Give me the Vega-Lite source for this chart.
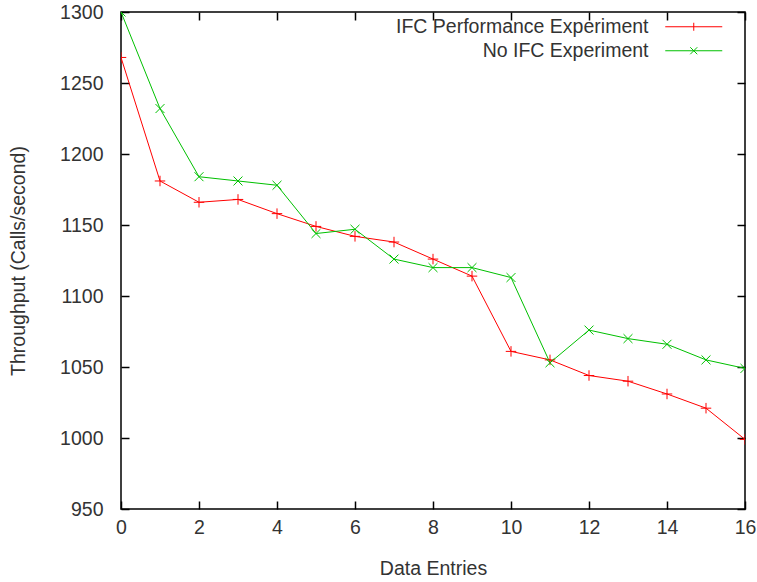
{
  "$schema": "https://vega.github.io/schema/vega-lite/v6.json",
  "width": 624,
  "height": 497,
  "autosize": {"type": "none"},
  "padding": {"left": 121, "top": 12, "right": 12, "bottom": 73},
  "background": "white",
  "config": {
    "view": {"stroke": "black", "strokeWidth": 1.5},
    "font": "Liberation Sans",
    "axis": {
      "labelFont": "Liberation Sans",
      "titleFont": "Liberation Sans",
      "labelFontSize": 19.5,
      "titleFontSize": 19.5,
      "titleFontWeight": "normal",
      "labelColor": "#333",
      "titleColor": "#333",
      "grid": false,
      "domain": false,
      "tickColor": "black",
      "tickSize": -8,
      "tickWidth": 1.5,
      "labelFlush": false,
      "labelBound": false,
      "labelOverlap": false
    }
  },
  "data": {
    "values": [
      {"x": 0, "y": 1268, "s": "IFC Performance Experiment"},
      {"x": 1, "y": 1181, "s": "IFC Performance Experiment"},
      {"x": 2, "y": 1166, "s": "IFC Performance Experiment"},
      {"x": 3, "y": 1168, "s": "IFC Performance Experiment"},
      {"x": 4, "y": 1158, "s": "IFC Performance Experiment"},
      {"x": 5, "y": 1149, "s": "IFC Performance Experiment"},
      {"x": 6, "y": 1142, "s": "IFC Performance Experiment"},
      {"x": 7, "y": 1138, "s": "IFC Performance Experiment"},
      {"x": 8, "y": 1126, "s": "IFC Performance Experiment"},
      {"x": 9, "y": 1114, "s": "IFC Performance Experiment"},
      {"x": 10, "y": 1061, "s": "IFC Performance Experiment"},
      {"x": 11, "y": 1055, "s": "IFC Performance Experiment"},
      {"x": 12, "y": 1044, "s": "IFC Performance Experiment"},
      {"x": 13, "y": 1040, "s": "IFC Performance Experiment"},
      {"x": 14, "y": 1031, "s": "IFC Performance Experiment"},
      {"x": 15, "y": 1021, "s": "IFC Performance Experiment"},
      {"x": 16, "y": 999, "s": "IFC Performance Experiment"},
      {"x": 0, "y": 1300, "s": "No IFC Experiment"},
      {"x": 1, "y": 1232, "s": "No IFC Experiment"},
      {"x": 2, "y": 1184, "s": "No IFC Experiment"},
      {"x": 3, "y": 1181, "s": "No IFC Experiment"},
      {"x": 4, "y": 1178, "s": "No IFC Experiment"},
      {"x": 5, "y": 1144, "s": "No IFC Experiment"},
      {"x": 6, "y": 1147, "s": "No IFC Experiment"},
      {"x": 7, "y": 1126, "s": "No IFC Experiment"},
      {"x": 8, "y": 1120, "s": "No IFC Experiment"},
      {"x": 9, "y": 1120, "s": "No IFC Experiment"},
      {"x": 10, "y": 1113, "s": "No IFC Experiment"},
      {"x": 11, "y": 1053, "s": "No IFC Experiment"},
      {"x": 12, "y": 1076, "s": "No IFC Experiment"},
      {"x": 13, "y": 1070, "s": "No IFC Experiment"},
      {"x": 14, "y": 1066, "s": "No IFC Experiment"},
      {"x": 15, "y": 1055, "s": "No IFC Experiment"},
      {"x": 16, "y": 1049, "s": "No IFC Experiment"}
    ]
  },
  "layer": [
    {
      "mark": {"type": "line", "strokeWidth": 1, "clip": true},
      "encoding": {
        "x": {"field": "x", "type": "quantitative", "scale": {"domain": [0, 16], "nice": false},
              "axis": {"title": "Data Entries", "values": [0,2,4,6,8,10,12,14,16], "labelPadding": 17, "titlePadding": 23, "orient": "bottom"}},
        "y": {"field": "y", "type": "quantitative", "scale": {"domain": [950, 1300], "nice": false, "zero": false},
              "axis": {"title": "Throughput (Calls/second)", "format": "d", "values": [950,1000,1050,1100,1150,1200,1250,1300], "labelPadding": 26, "titlePadding": 31, "orient": "left"}},
        "color": {"field": "s", "type": "nominal",
                  "scale": {"domain": ["IFC Performance Experiment", "No IFC Experiment"], "range": ["#ff0000", "#00c000"]},
                  "legend": {
                    "title": null,
                    "orient": "none",
                    "legendX": 563,
                    "legendY": 5,
                    "labelAlign": "right",
                    "labelOffset": -55,
                    "labelLimit": 0,
                    "labelFontSize": 19.5,
                    "labelFont": "Liberation Sans",
                    "labelColor": "#333",
                    "symbolSize": 100,
                    "symbolStrokeWidth": 1,
                    "rowPadding": 3,
                    "encode": {
                      "symbols": {
                        "update": {
                          "shape": {"signal": "datum.value === 'IFC Performance Experiment' ? 'M-5.7,0H5.7M0,-0.8V0.8' : 'M-5.7,0H5.7M-0.7,-0.7L0.7,0.7M-0.7,0.7L0.7,-0.7'"},
                          "fill": {"value": "transparent"}
                        }
                      }
                    }
                  }}
      }
    },
    {
      "transform": [{"filter": "datum.s === 'IFC Performance Experiment'"}],
      "mark": {"type": "point", "filled": false, "strokeWidth": 1, "opacity": 1, "clip": true, "shape": "M-1,0H1M0,-1V1", "color": "#ff0000", "size": 110},
      "encoding": {
        "x": {"field": "x", "type": "quantitative", "axis": {"orient": "top", "labels": false, "title": null, "values": [0,2,4,6,8,10,12,14,16]}},
        "y": {"field": "y", "type": "quantitative", "axis": {"orient": "right", "labels": false, "title": null, "values": [950,1000,1050,1100,1150,1200,1250,1300]}}
      }
    },
    {
      "transform": [{"filter": "datum.s === 'No IFC Experiment'"}],
      "mark": {"type": "point", "filled": false, "strokeWidth": 1, "opacity": 1, "clip": true, "shape": "M-1,-1L1,1M-1,1L1,-1", "color": "#00c000", "size": 80},
      "encoding": {
        "x": {"field": "x", "type": "quantitative", "axis": null},
        "y": {"field": "y", "type": "quantitative", "axis": null}
      }
    }
  ],
  "resolve": {"axis": {"x": "independent", "y": "independent"}}
}
